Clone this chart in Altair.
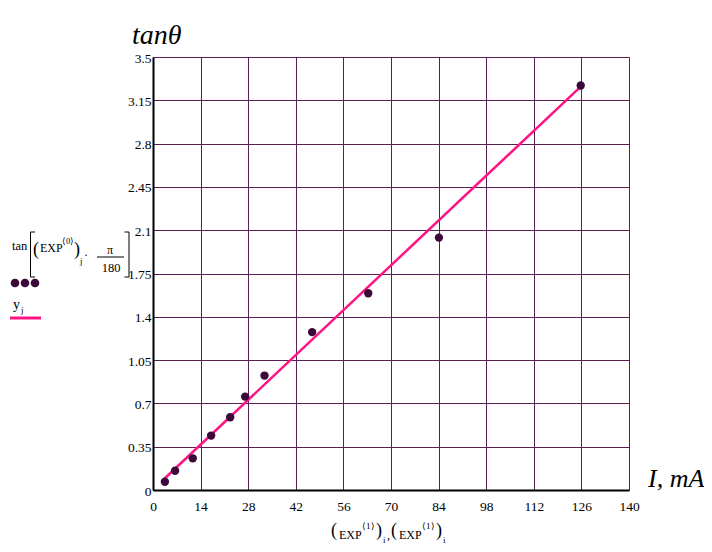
import altair as alt
import pandas as pd

# ---- data ----
current_mA = [3.5, 6.5, 11.7, 17.1, 22.7, 27.1, 32.8, 46.8, 63.3, 84.1, 125.8]
tan_theta = [0.067, 0.156, 0.256, 0.44, 0.588, 0.755, 0.925, 1.276, 1.59, 2.04, 3.27]
fit_x = [3.5, 125.8]
fit_y = [0.095, 3.26]
x_ticks = [0, 14, 28, 42, 56, 70, 84, 98, 112, 126, 140]
y_ticks = [0, 0.35, 0.7, 1.05, 1.4, 1.75, 2.1, 2.45, 2.8, 3.15, 3.5]

# ---- layout ----
W, H = 476, 433          # plot area
OX, OY = 153, 57         # page position of the plot's top-left corner
PAD_L, PAD_T = OX - 8, OY - 8
TOTAL_W, TOTAL_H = 696, 536
SERIF = "Liberation Serif"
GRID = "#5a1f55"
DOT = "#3b0a3a"
PINK = "#ff1283"

pts = pd.DataFrame({"x": current_mA, "y": tan_theta})
fit = pd.DataFrame({"x": fit_x, "y": fit_y})
dummy = pd.DataFrame({"k": [0]})

xs = alt.Scale(domain=[0, 140], nice=False, zero=False)
ys = alt.Scale(domain=[0, 3.5], nice=False, zero=False)

xaxis = alt.Axis(values=x_ticks, labelExpr="datum.value + ''", title=None, grid=True,
                 gridColor=GRID, gridWidth=1, ticks=False, labelPadding=9,
                 labelFontSize=13.5, labelFont=SERIF, labelColor="black",
                 domainColor="black", domainWidth=2, labelFlush=False)
yaxis = alt.Axis(values=y_ticks, labelExpr="datum.value + ''", title=None, grid=True,
                 gridColor=GRID, gridWidth=1, ticks=False, labelPadding=2,
                 labelFontSize=13.5, labelFont=SERIF, labelColor="black",
                 domainColor="black", domainWidth=2, labelOffset=1,
                 labelFlush=False)

line = alt.Chart(fit).mark_line(color=PINK, strokeWidth=2.5).encode(
    x=alt.X("x:Q", scale=xs, axis=xaxis),
    y=alt.Y("y:Q", scale=ys, axis=yaxis),
)
dots = alt.Chart(pts).mark_circle(color=DOT, size=70, opacity=1).encode(
    x=alt.X("x:Q", scale=xs),
    y=alt.Y("y:Q", scale=ys),
)


def txt(s, px, py, size, align="left", italic=False, color="black"):
    kw = dict(text=s, font=SERIF, fontSize=size, align=align,
              baseline="alphabetic", color=color)
    if italic:
        kw["fontStyle"] = "italic"
    return alt.Chart(dummy).mark_text(**kw).encode(
        x=alt.value(px - OX), y=alt.value(py - OY))


def seg(x1, y1, x2, y2, width=1, color="black"):
    return alt.Chart(dummy).mark_rule(color=color, strokeWidth=width).encode(
        x=alt.value(x1 - OX), y=alt.value(y1 - OY),
        x2=alt.value(x2 - OX), y2=alt.value(y2 - OY))


def dot(px, py):
    return alt.Chart(dummy).mark_circle(color=DOT, size=75, opacity=1).encode(
        x=alt.value(px - OX), y=alt.value(py - OY))


ann = [
    # titles
    txt("tanθ", 132, 44, 28, italic=True),
    txt("I, mA", 648, 487, 26, italic=True),
    # y-label expression: tan[(EXP<0>)_j · π/180]
    txt("tan", 12, 250, 12.5),
    seg(30.5, 232, 30.5, 277), seg(30.5, 232, 35, 232), seg(30.5, 277, 35, 277),
    txt("(", 33, 255, 18),
    txt("EXP", 40, 252, 12),
    txt("⟨0⟩", 62, 244, 8.5),
    txt(")", 74, 255, 18),
    txt("j", 80, 264, 9),
    txt("·", 84, 259, 12),
    txt("π", 110, 254, 12, align="center"),
    seg(97, 257, 124, 257),
    txt("180", 111, 272, 12.5, align="center"),
    seg(129, 232, 129, 277), seg(124.5, 232, 129, 232), seg(124.5, 277, 129, 277),
    # legend
    dot(15, 283), dot(25, 283), dot(35, 283),
    txt("y", 13, 309, 14),
    txt("j", 21, 313, 9),
    seg(10, 318, 41, 318, width=3, color=PINK),
    # x-label expression: (EXP<1>)_i, (EXP<1>)_i
    txt("(", 331, 536, 18),
    txt("EXP", 339, 539, 12),
    txt("⟨1⟩", 362, 529, 9),
    txt(")", 376, 536, 18),
    txt("i", 383, 543, 9),
    txt(",", 387, 539, 12),
    txt("(", 391, 536, 18),
    txt("EXP", 399, 539, 12),
    txt("⟨1⟩", 422, 529, 9),
    txt(")", 436, 536, 18),
    txt("i", 443, 543, 9),
]

chart = alt.layer(line, dots, *ann).properties(
    width=W, height=H,
    autosize=alt.AutoSizeParams(type="none"),
    padding={"left": PAD_L, "top": PAD_T,
             "right": TOTAL_W - PAD_L - W, "bottom": TOTAL_H - PAD_T - H},
).configure_view(stroke="black", strokeWidth=2).configure(background="white")

chart.save("out.html", embed_options={"renderer": "svg", "actions": False})
